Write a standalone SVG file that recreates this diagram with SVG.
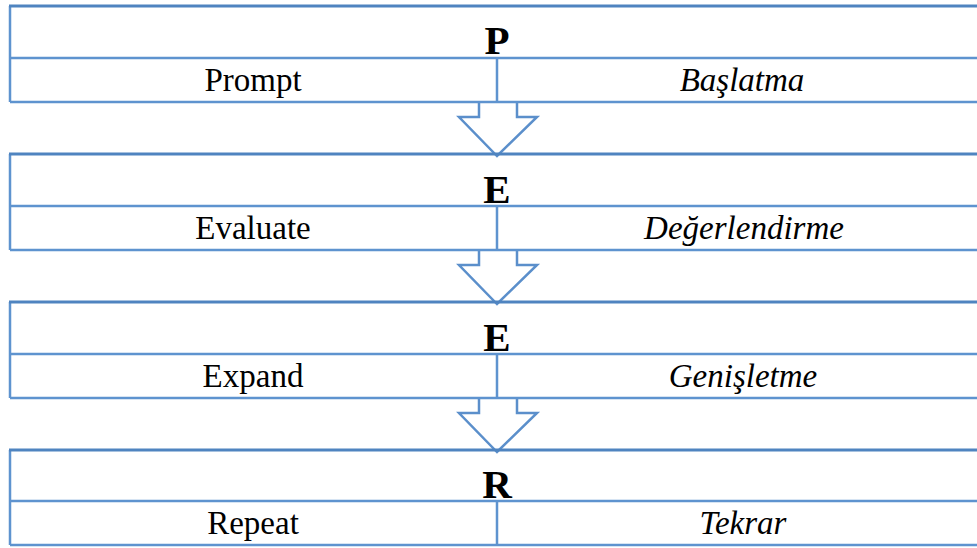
<svg xmlns="http://www.w3.org/2000/svg" width="977" height="548" viewBox="0 0 977 548">
<style>
.ln{fill:none;stroke:#5E93CF;stroke-width:2.5}
.top{fill:none;stroke:#4F84C0;stroke-width:3}
.arr{fill:#fff;stroke:#5B8FCB;stroke-width:2.5;stroke-linejoin:miter}
.h{font-family:"Liberation Serif","Times New Roman",serif;font-weight:bold;font-size:41px;text-anchor:middle;fill:#000}
.t{font-family:"Liberation Serif","Times New Roman",serif;font-size:33px;text-anchor:middle;fill:#000}
.i{font-family:"Liberation Serif","Times New Roman",serif;font-style:italic;font-size:33px;text-anchor:middle;fill:#000}
</style>
<rect width="977" height="548" fill="#fff"/>
<g id="connectors">
<path class="arr" d="M479,102 V117 H459 L497,156 L537,117 H517 V102"/>
<path class="arr" d="M479,250 V265 H459 L497,304 L537,265 H517 V250"/>
<path class="arr" d="M479,398 V413 H459 L497,452 L537,413 H517 V398"/>
</g>
<g id="node-p">
<path class="ln" d="M10,58 H990 M10,102 H990 M497,58 V102 M10,6 V102"/>
<path class="top" d="M9,6 H990"/>
<text class="h" x="497" y="54">P</text>
<text class="t" x="253" y="91">Prompt</text>
<text class="i" x="742" y="91">Başlatma</text>
</g>
<g id="node-e1">
<path class="ln" d="M10,206 H990 M10,250 H990 M497,206 V250 M10,154 V250"/>
<path class="top" d="M9,154 H990"/>
<text class="h" x="497" y="203">E</text>
<text class="t" x="253" y="239">Evaluate</text>
<text class="i" x="744" y="239">Değerlendirme</text>
</g>
<g id="node-e2">
<path class="ln" d="M10,354 H990 M10,398 H990 M497,354 V398 M10,302 V398"/>
<path class="top" d="M9,302 H990"/>
<text class="h" x="497" y="351">E</text>
<text class="t" x="253" y="387">Expand</text>
<text class="i" x="743" y="387">Genişletme</text>
</g>
<g id="node-r">
<path class="ln" d="M10,501 H990 M10,545 H990 M497,501 V545 M10,450 V545"/>
<path class="top" d="M9,450 H990"/>
<text class="h" x="497" y="498">R</text>
<text class="t" x="253" y="534">Repeat</text>
<text class="i" x="743" y="534">Tekrar</text>
</g>
</svg>
